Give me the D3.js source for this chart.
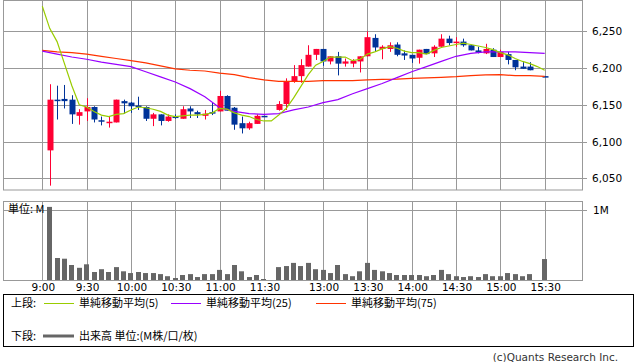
<!DOCTYPE html>
<html>
<head>
<meta charset="utf-8">
<script src="https://d3js.org/d3.v7.min.js"></script>
<style>
body { margin: 0; background: #fff; }
svg text { font-family: "DejaVu Sans", Verdana, sans-serif; font-size: 10.5px; fill: #000; }
svg text.jp { font-family: "Noto Sans CJK JP", sans-serif; font-size: 11px; }
</style>
</head>
<body>
<svg id="chart" width="638" height="362"></svg>
<script>
// 5分足: slot 0 = 9:00, slot 31 = 昼休み, slot 67 = 引け前の空白
const slots = [1,2,3,4,5,6,7,8,9,10,11,12,13,14,15,16,17,18,19,20,21,22,23,24,25,26,27,28,29,30,
  32,33,34,35,36,37,38,39,40,41,42,43,44,45,46,47,48,49,50,51,52,53,54,55,56,57,58,59,60,61,62,63,64,65,66,68];
const open  = [6088,6157,6158,6157,6135,6141,6147,6129,6126,6126,6155,6153,6149,6147,6131,6137,6128,6134,6131,6145,6140,6135,6140,6141,6162,6146,6125,6118,6124,6135,
  6143,6151,6182,6189,6202,6218,6226,6209,6216,6206,6206,6209,6216,6241,6226,6226,6232,6220,6218,6214,6226,6220,6229,6240,6235,6236,6231,6224,6220,6225,6215,6219,6211,6202,6202,6189];
const high  = [6178,6176,6177,6163,6144,6159,6148,6134,6134,6157,6157,6154,6161,6148,6139,6137,6137,6137,6148,6148,6142,6143,6153,6169,6163,6147,6134,6127,6137,6135,
  6155,6186,6204,6212,6231,6226,6226,6216,6222,6213,6212,6216,6250,6246,6231,6235,6235,6224,6218,6225,6226,6231,6246,6244,6242,6240,6231,6229,6233,6227,6225,6222,6211,6208,6208,6189];
const low   = [6040,6130,6145,6124,6123,6128,6126,6122,6119,6126,6138,6139,6143,6128,6121,6122,6127,6131,6131,6132,6132,6130,6136,6141,6142,6116,6111,6116,6124,6134,
  6142,6143,6180,6180,6202,6211,6203,6205,6190,6202,6201,6194,6216,6223,6212,6222,6216,6211,6207,6206,6219,6215,6229,6231,6229,6229,6224,6220,6219,6215,6215,6205,6197,6199,6197,6188];
const close = [6157,6156,6155,6137,6140,6147,6130,6127,6127,6157,6152,6148,6147,6131,6137,6128,6134,6133,6144,6141,6137,6138,6139,6162,6142,6123,6118,6125,6135,6134,
  6151,6182,6189,6204,6218,6226,6209,6216,6206,6209,6210,6216,6242,6228,6229,6231,6218,6217,6213,6225,6219,6229,6240,6234,6236,6231,6224,6221,6226,6215,6222,6211,6201,6199,6197,6188];
// 出来高 (M)
const volume = [1.04,0.31,0.30,0.21,0.17,0.22,0.11,0.15,0.11,0.18,0.12,0.095,0.11,0.095,0.095,0.08,0.05,0.024,0.067,0.08,0.038,0.08,0.08,0.14,0.08,0.21,0.12,0.038,0.067,0.01,
  0.18,0.195,0.24,0.195,0.24,0.15,0.14,0.095,0.21,0.08,0.05,0.12,0.24,0.14,0.12,0.095,0.067,0.067,0.067,0.067,0.05,0.067,0.14,0.08,0.05,0.038,0.05,0.038,0.08,0.05,0.05,0.095,0.08,0.05,0.08,0.295];

// 単純移動平均
const ma5 = [6284,6254,6236,6206,6176,6150,6147,6141,6136,6134,6137,6138,6143,6147,6146,6144,6141,6136,6134,6135,6136,6136,6137,6139,6145,6144,6139,6136,6134,6130,
  6128,6128,6136,6145,6159,6175,6191,6204,6209,6215,6215,6215,6210,6212,6219,6222,6226,6229,6227,6223,6221,6221,6219,6224,6228,6230,6232,6234,6232,6230,6228,6225,6221,6218,6213,6209,6206,6202,6197];
const maSlots = [0,2,4,6,8,10,12,14,16,18,20,22,24,26,28,30,32,34,36,38,40,42,44,46,48,50,52,54,56,58,60,62,64,66,68];
const ma25 = [6223,6219,6215,6212,6208,6205,6202,6195,6188,6181,6172,6161,6146,6141,6138,6137,6138,6143,6147,6153,6157,6165,6172,6179,6187,6195,6202,6209,6216,6220,6222,6222,6222,6221,6220];
const ma75 = [6224,6222,6221,6219,6216,6213,6210,6207,6203,6199,6197,6196,6193,6191,6187,6184,6182,6182,6182,6183,6183,6183,6184,6184.5,6185,6186,6186.5,6187.4,6188.3,6189.7,6190.6,6191,6189.7,6189.7,6188.8];

const priceTicks = [6050, 6100, 6150, 6200, 6250];
const timeTicks = [0, 6, 12, 18, 24, 30, 38, 44, 50, 56, 62, 68];
const timeLabels = ["9:00","9:30","10:00","10:30","11:00","11:30","13:00","13:30","14:00","14:30","15:00","15:30"];

const svg = d3.select("#chart");
const left = 3, right = 582;
const priceTop = 0.5, priceBottom = 190;
const volTop = 201, volBottom = 280;

const x = d3.scaleLinear().domain([0, 68]).range([42.3, 544.7]);
const y = d3.scaleLinear().domain([6050, 6250]).range([178.3, 31.3]);
const yv = d3.scaleLinear().domain([0, 1]).range([volBottom - 0.3, 209.7]);

const grid = "#999";

// 上段 枠とグリッド
svg.append("rect").attr("x", left + 0.5).attr("y", priceTop).attr("width", right - left).attr("height", priceBottom - priceTop)
  .attr("fill", "none").attr("stroke", grid);
svg.selectAll(".hgrid").data(priceTicks).join("line")
  .attr("x1", left).attr("x2", right + 5)
  .attr("y1", d => Math.round(y(d)) + 0.5).attr("y2", d => Math.round(y(d)) + 0.5)
  .attr("stroke", grid);
svg.selectAll(".plabel").data(priceTicks).join("text")
  .attr("x", 592).attr("y", d => y(d) + 4).text(d3.format(","));
svg.selectAll(".vgrid").data(timeTicks).join("line")
  .attr("x1", d => Math.round(x(d)) + 0.5).attr("x2", d => Math.round(x(d)) + 0.5)
  .attr("y1", priceTop).attr("y2", priceBottom).attr("stroke", grid);

// 下段 枠とグリッド
svg.append("rect").attr("x", left + 0.5).attr("y", volTop + 0.5).attr("width", right - left).attr("height", volBottom - volTop)
  .attr("fill", "none").attr("stroke", grid);
svg.append("line").attr("x1", left).attr("x2", right + 5)
  .attr("y1", Math.round(yv(1)) + 0.5).attr("y2", Math.round(yv(1)) + 0.5).attr("stroke", grid);
svg.selectAll(".vgrid2").data(timeTicks).join("line")
  .attr("x1", d => Math.round(x(d)) + 0.5).attr("x2", d => Math.round(x(d)) + 0.5)
  .attr("y1", volTop).attr("y2", volBottom).attr("stroke", grid);
svg.append("text").attr("x", 593).attr("y", yv(1) + 4).text("1M");
svg.selectAll(".tlabel").data(timeTicks).join("text")
  .attr("x", d => x(d) + 1).attr("y", 291).attr("text-anchor", "middle")
  .text((d, i) => timeLabels[i]);

// 出来高
const bw = 5;
svg.selectAll(".vol").data(slots).join("rect")
  .attr("x", d => Math.round(x(d) - bw / 2)).attr("width", bw)
  .attr("y", (d, i) => yv(volume[i])).attr("height", (d, i) => volBottom - yv(volume[i]))
  .attr("fill", "#666");
svg.append("text").attr("class", "jp").attr("x", 8).attr("y", 213).text("単位: M");

// ローソク足
const candles = svg.append("g");
slots.forEach((s, i) => {
  const up = close[i] >= open[i];
  const col = up ? "#ff0033" : "#003399";
  const cx = Math.round(x(s));
  candles.append("line")
    .attr("x1", cx + 0.5).attr("x2", cx + 0.5)
    .attr("y1", y(high[i])).attr("y2", y(low[i]))
    .attr("stroke", col);
  const top = y(Math.max(open[i], close[i]));
  const h = Math.max(1.5, Math.abs(y(open[i]) - y(close[i])));
  candles.append("rect")
    .attr("x", cx + 0.5 - bw / 2 - 0.5).attr("width", bw + 1)
    .attr("y", top).attr("height", h).attr("fill", col);
});

// 移動平均線
const lineAll = d3.line().x((d, i) => x(i)).y(d => y(d));
const lineEven = d3.line().x((d, i) => x(maSlots[i])).y(d => y(d));
svg.append("path").attr("d", lineEven(ma75)).attr("fill", "none").attr("stroke", "#ff3300").attr("stroke-width", 1.2);
svg.append("path").attr("d", lineEven(ma25)).attr("fill", "none").attr("stroke", "#9900ff").attr("stroke-width", 1.2);
svg.append("path").attr("d", lineAll(ma5)).attr("fill", "none").attr("stroke", "#99cc00").attr("stroke-width", 1.2);

// 凡例
svg.append("rect").attr("x", 3.5).attr("y", 294.5).attr("width", 630).attr("height", 52)
  .attr("fill", "none").attr("stroke", "#000");
const legendItems = [
  { label: "単純移動平均(5)", color: "#99cc00", x: 44 },
  { label: "単純移動平均(25)", color: "#9900ff", x: 171 },
  { label: "単純移動平均(75)", color: "#ff3300", x: 316 }
];
svg.append("text").attr("class", "jp").attr("x", 11).attr("y", 307).text("上段:");
legendItems.forEach(d => {
  svg.append("line").attr("x1", d.x).attr("x2", d.x + 30).attr("y1", 303.5).attr("y2", 303.5).attr("stroke", d.color);
  svg.append("text").attr("class", "jp").attr("x", d.x + 35).attr("y", 307).text(d.label);
});
svg.append("text").attr("class", "jp").attr("x", 11).attr("y", 340).text("下段:");
svg.append("line").attr("x1", 43).attr("x2", 74).attr("y1", 336).attr("y2", 336).attr("stroke", "#666").attr("stroke-width", 3);
svg.append("text").attr("class", "jp").attr("x", 79).attr("y", 340).text("出来高 単位:(M株/口/枚)");

svg.append("text").attr("x", 618).attr("y", 361).attr("text-anchor", "end").style("font-size", "10.5px").style("fill", "#333")
  .text("(c)Quants Research Inc.");
</script>
</body>
</html>
